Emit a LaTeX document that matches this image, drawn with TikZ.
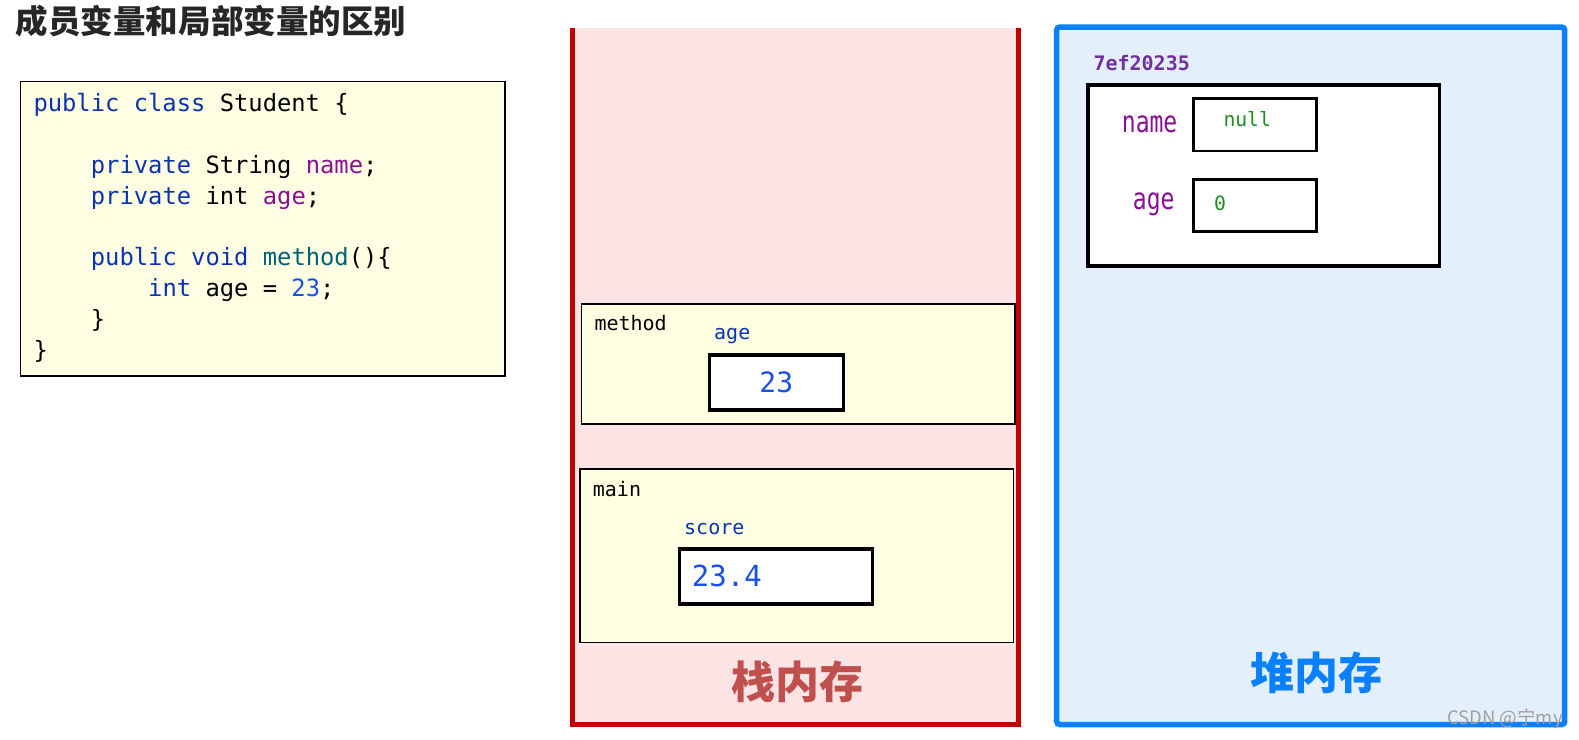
\documentclass[tikz,border=0pt]{standalone}
\usepackage{fontspec}
\usepackage{graphicx}
\setmonofont{DejaVu Sans Mono}
\newfontfamily\cjk{Noto Sans CJK SC}
\newcommand\fsz[1]{\fontsize{#1}{#1}\selectfont}
\definecolor{kw}{HTML}{0B33B0}
\definecolor{fld}{HTML}{871094}
\definecolor{mth}{HTML}{00627A}
\definecolor{num}{HTML}{1750EB}
\definecolor{titlec}{HTML}{262626}
\definecolor{codeyellow}{HTML}{FFFFE4}
\definecolor{frameyellow}{HTML}{FFFFE2}
\definecolor{stackfill}{HTML}{FDE4E4}
\definecolor{stackred}{HTML}{C00000}
\definecolor{stacktext}{HTML}{C0504D}
\definecolor{heapfill}{HTML}{E3F0FC}
\definecolor{heapblue}{HTML}{0A80FF}
\definecolor{addr}{HTML}{7030A0}
\definecolor{valgreen}{HTML}{1E8C1E}
\tikzset{
  codebox/.style={draw=black, line width=1.5pt, fill=codeyellow, inner sep=0pt, anchor=north west},
  framebox/.style={draw=black, line width=1.5pt, fill=frameyellow, inner sep=0pt, anchor=north west},
  varbox/.style={draw=black, line width=3.3pt, fill=white, inner sep=0pt, anchor=north west},
  cellbox/.style={draw=black, line width=2.7pt, fill=white, inner sep=0pt, anchor=north west},
  codeline/.style={anchor=base west, inner sep=0pt, font=\ttfamily\fsz{23.8}},
  lbl/.style={anchor=base west, inner sep=0pt, font=\ttfamily\fsz{20}},
  txt/.style={anchor=base west, inner sep=0pt},
  memtitle/.style={inner sep=0pt, font=\cjk\bfseries\fsz{44}},
}
\begin{document}
\begin{tikzpicture}[x=1pt,y=-1pt]
\useasboundingbox (0,0) rectangle (1579,739);
\fill[white] (0,0) rectangle (1579,739);

% title
\node[inner sep=0pt, text=titlec, font=\cjk\bfseries\fsz{32.5}] (title) at (211,21.5) {成员变量和局部变量的区别};

% code box
\node[codebox, minimum width=484.5pt, minimum height=294.5pt] (code) at (19.75,80.75) {};
\node[codeline] (l1) at (33.3,111.7) {\textcolor{kw}{public class} Student \{};
\node[codeline] (l3) at (90.7,173.3) {\textcolor{kw}{private} String \textcolor{fld}{name};};
\node[codeline] (l4) at (90.7,204.1) {\textcolor{kw}{private} int \textcolor{fld}{age};};
\node[codeline] (l6) at (90.7,265.7) {\textcolor{kw}{public void} \textcolor{mth}{method}()\{};
\node[codeline] (l7) at (148,296.5) {\textcolor{kw}{int} age = \textcolor{num}{23};};
\node[codeline] (l8) at (90.7,327.3) {\}};
\node[codeline] (l9) at (33.3,358.1) {\}};

% stack
\fill[stackfill] (572,28) rectangle (1018,724);
\coordinate (stl) at (572,28);
\coordinate (sbl) at (572,724);
\coordinate (sbr) at (1018,724);
\coordinate (str) at (1018,28);
\draw[stackred, line width=5pt] (stl) -- (sbl) -- (sbr) -- (str);

\node[framebox, minimum width=433.5pt, minimum height=119.8pt] (mframe) at (580.75,303.45) {};
\node[lbl] (mname) at (594.3,330.7) {method};
\node[lbl, text=kw] (mage) at (714,339) {age};
\node[varbox, minimum width=134pt, minimum height=55pt, text=num, font=\ttfamily\fsz{28}] (mbox) at (707.65,353.35) {23};

\node[framebox, minimum width=433.5pt, minimum height=173.5pt] (mainframe) at (579.05,468.45) {};
\node[lbl] (mainname) at (592.7,496.7) {main};
\node[lbl, text=kw] (score) at (684,534) {score};
\node[varbox, minimum width=193.4pt, minimum height=55pt] (sbox) at (677.65,547.35) {};
\node[txt, text=num, font=\ttfamily\fsz{29}] (sval) at (691.7,586) {23.4};

\node[memtitle, text=stacktext] (stacklabel) at (797,682) {栈内存};

% heap
\draw[heapblue, line width=5.5pt, fill=heapfill, rounded corners=3pt] (1056.7,27) rectangle (1564.7,724.5);
\node[txt, text=addr, font=\ttfamily\bfseries\fsz{20}] (addr) at (1093.3,70) {7ef20235};
\node[varbox, line width=3.5pt, minimum width=351.5pt, minimum height=180.6pt] (obj) at (1086,83.4) {};
\node[txt, text=fld, font=\ttfamily\fsz{23}] (fname) at (1121.7,132.7) {\scalebox{1}[1.3]{name}};
\node[txt, text=fld, font=\ttfamily\fsz{23}] (fage) at (1132.7,209.3) {\scalebox{1}[1.3]{age}};
\node[cellbox, minimum width=123.3pt, minimum height=52.4pt] (namebox) at (1192,97.3) {};
\node[cellbox, minimum width=123.3pt, minimum height=52.3pt] (agebox) at (1192,178) {};
\node[txt, text=valgreen, font=\ttfamily\fsz{19.7}] (nullv) at (1223.3,126.7) {null};
\node[txt, text=valgreen, font=\ttfamily\fsz{19.7}] (zerov) at (1214,210.7) {0};

\node[memtitle, text=heapblue] (heaplabel) at (1316.5,672.5) {堆内存};

% watermark
\node[inner sep=0pt, text=gray!75, font=\cjk\fsz{18.5}] (wm) at (1505,719) {CSDN @宁my};
\end{tikzpicture}
\end{document}
